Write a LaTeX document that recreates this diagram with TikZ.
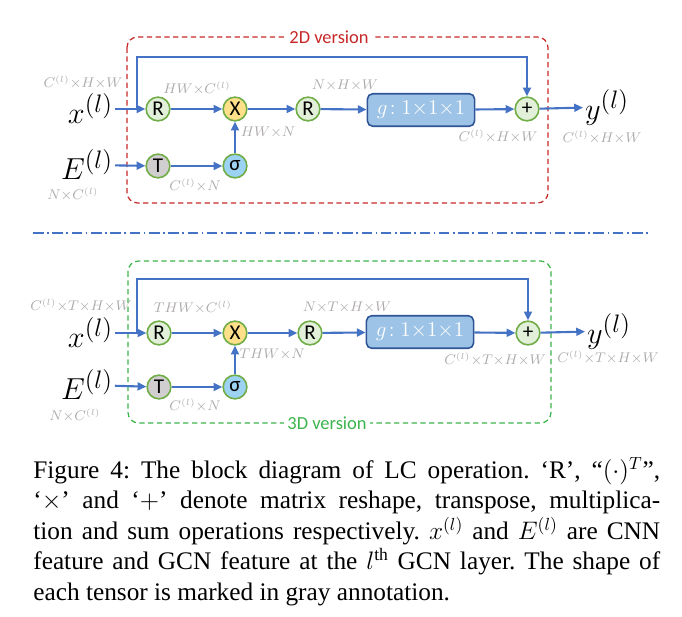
\documentclass[tikz,border=0pt]{standalone}
\usepackage{fontspec}
\setmainfont{Liberation Serif}
\newfontfamily\calibri{Carlito}
\usetikzlibrary{arrows.meta, positioning}

\definecolor{flowblue}{HTML}{4472C4}
\definecolor{opgreen}{HTML}{70AD47}
\definecolor{oplight}{HTML}{E2F0D9}
\definecolor{opyellow}{HTML}{FFE08A}
\definecolor{opgray}{HTML}{D0CECE}
\definecolor{opsigma}{HTML}{9DD3F2}
\definecolor{gfill}{HTML}{9DC3E6}
\definecolor{gdraw}{HTML}{2F5597}
\definecolor{anngray}{HTML}{AFABAB}
\definecolor{verred}{HTML}{C82828}
\definecolor{vergreen}{HTML}{3CB44B}

\begin{document}
\begin{tikzpicture}[x=0.02cm, y=-0.02cm, >={Triangle[length=5pt, width=4.5pt]},
  op/.style={circle, draw=opgreen, line width=0.9pt, fill=oplight, minimum size=13.5pt, inner sep=0pt, font=\calibri\fontsize{12}{13}\selectfont},
  flow/.style={->, draw=flowblue, line width=1.2pt},
  ann/.style={text=anngray, inner sep=1pt, font=\fontsize{7.8}{9}\selectfont},
  big/.style={inner sep=1pt, font=\fontsize{19}{22}\selectfont},
  gbox/.style={draw=gdraw, fill=gfill, line width=0.9pt, rounded corners=3pt, minimum width=61pt, minimum height=18.5pt, text=white, font=\fontsize{12.5}{14}\selectfont},
  ver/.style={fill=white, inner sep=2pt, font=\calibri\fontsize{10.5}{12}\selectfont}]

\useasboundingbox (0,0) rectangle (682,617);

% --- 2D version (top) ---
\draw[verred, line width=0.7pt, rounded corners=6pt, dash pattern=on 3pt off 2pt] (127,37) rectangle (548,203);
\node[ver, text=verred] (title2d) at (329,37) {2D version};

\node[big, anchor=east] (xa) at (115,109) {$x^{(l)}$};
\node[big, anchor=east] (Ea) at (115,165) {$E^{(l)}$};
\node[op] (R1a) at (158,109) {R};
\node[op, fill=opyellow] (Xa) at (235,109) {X};
\node[op] (R2a) at (308,109) {R};
\node[gbox] (ga) at (421,110) {$g\!:1{\times}1{\times}1$};
\node[op] (plusa) at (527,109) {+};
\node[op, fill=opgray] (Ta) at (158,166) {T};
\node[op, fill=opsigma] (sga) at (235,166) {σ};
\node[big, anchor=west] (ya) at (583,107) {$y^{(l)}$};

\coordinate (splita) at (137,109);
\coordinate (topa) at (527,57);
\draw[flow] (xa) -- (R1a);
\draw[flow] (splita) |- (topa) -- (plusa);
\draw[flow] (R1a) -- (Xa);
\draw[flow] (Xa) -- (R2a);
\draw[flow] (R2a) -- (ga);
\draw[flow] (ga) -- (plusa);
\draw[flow] (plusa) -- (ya);
\draw[flow] (Ea) -- (Ta);
\draw[flow] (Ta) -- (sga);
\draw[flow] (sga) -- (Xa);

% shapes in gray
\node[ann] (sxa) at (83,82) {$C^{(l)}{\times}H{\times}W$};
\node[ann] (sr1a) at (197,88) {$HW{\times}C^{(l)}$};
\node[ann] (sr2a) at (345,85) {$N{\times}H{\times}W$};
\node[ann] (sxxa) at (268,132) {$HW{\times}N$};
\node[ann] (sta) at (195,185) {$C^{(l)}{\times}N$};
\node[ann] (sea) at (73,194) {$N{\times}C^{(l)}$};
\node[ann] (sga2) at (498,136) {$C^{(l)}{\times}H{\times}W$};
\node[ann] (sya) at (602,137) {$C^{(l)}{\times}H{\times}W$};

% --- separator ---
\draw[flowblue, line width=0.6pt, dash pattern=on 6pt off 2pt on 1pt off 2pt] (33,233) -- (650,233);

% --- 3D version (bottom) ---
\draw[vergreen, line width=0.7pt, rounded corners=6pt, dash pattern=on 3pt off 2pt] (128,261) rectangle (551,423);
\node[ver, text=vergreen] (title3d) at (327,423) {3D version};

\node[big, anchor=east] (xb) at (115,333) {$x^{(l)}$};
\node[big, anchor=east] (Eb) at (115,385) {$E^{(l)}$};
\node[op] (R1b) at (159,333) {R};
\node[op, fill=opyellow] (Xb) at (235,333) {X};
\node[op] (R2b) at (310,333) {R};
\node[gbox] (gb) at (420,332) {$g\!:1{\times}1{\times}1$};
\node[op] (plusb) at (528,333) {+};
\node[op, fill=opgray] (Tb) at (159,387) {T};
\node[op, fill=opsigma] (sgb) at (235,387) {σ};
\node[big, anchor=west] (yb) at (585,331) {$y^{(l)}$};

\coordinate (splitb) at (137,333);
\coordinate (topb) at (528,279);
\draw[flow] (xb) -- (R1b);
\draw[flow] (splitb) |- (topb) -- (plusb);
\draw[flow] (R1b) -- (Xb);
\draw[flow] (Xb) -- (R2b);
\draw[flow] (R2b) -- (gb);
\draw[flow] (gb) -- (plusb);
\draw[flow] (plusb) -- (yb);
\draw[flow] (Eb) -- (Tb);
\draw[flow] (Tb) -- (sgb);
\draw[flow] (sgb) -- (Xb);

% shapes in gray
\node[ann] (sxb) at (81,305) {$C^{(l)}{\times}T{\times}H{\times}W$};
\node[ann] (sr1b) at (193,307) {$THW{\times}C^{(l)}$};
\node[ann] (sr2b) at (347,307) {$N{\times}T{\times}H{\times}W$};
\node[ann] (sxxb) at (272,354) {$THW{\times}N$};
\node[ann] (stb) at (195,405) {$C^{(l)}{\times}N$};
\node[ann] (seb) at (75,415) {$N{\times}C^{(l)}$};
\node[ann] (sgb2) at (495,359) {$C^{(l)}{\times}T{\times}H{\times}W$};
\node[ann] (syb) at (608,357) {$C^{(l)}{\times}T{\times}H{\times}W$};

% --- caption ---
\node[anchor=north west, inner sep=0pt, text width=12.54cm, align=justify, font=\fontsize{14.4}{17.3}\selectfont\frenchspacing] (caption) at (33,457)
  {Figure 4: The block diagram of LC operation. ‘R’, “$(\cdot)^T$”,\linebreak
   ‘$\times$’ and ‘$+$’ denote matrix reshape, transpose, multiplica-\linebreak
   tion and sum operations respectively. $x^{(l)}$ and $E^{(l)}$ are CNN\linebreak
   feature and GCN feature at the $l^{\mathrm{th}}$ GCN layer. The shape of\linebreak
   each tensor is marked in gray annotation.};

\end{tikzpicture}
\end{document}
